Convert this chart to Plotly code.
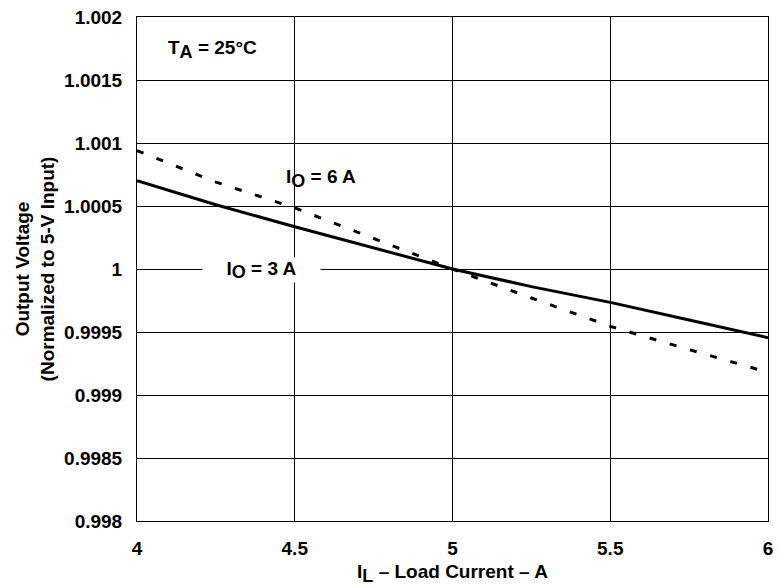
import plotly.graph_objects as go

load_current = [4.0, 4.25, 4.5, 4.75, 5.0, 5.25, 5.5, 5.75, 6.0]
vout_3a = [1.00070, 1.00051, 1.000335, 1.000165, 1.00000, 0.99986, 0.999735, 0.999595, 0.999455]
vout_6a = [1.00094, 1.00069, 1.000485, 1.00024, 1.00000, 0.99977, 0.999545, 0.99936, 0.99918]

x_ticks = [4, 4.5, 5, 5.5, 6]
x_tick_labels = ["4", "4.5", "5", "5.5", "6"]
y_ticks = [0.998, 0.9985, 0.999, 0.9995, 1.0, 1.0005, 1.001, 1.0015, 1.002]
y_tick_labels = ["0.998", "0.9985", "0.999", "0.9995", "1", "1.0005", "1.001", "1.0015", "1.002"]

FONT = "Liberation Sans, Arial, sans-serif"
FS = 19


def sub(s):
    return f"<sub><span style='font-size:18px'>{s}</span></sub>"


fig = go.Figure()
fig.add_trace(go.Scatter(x=load_current, y=vout_3a, mode="lines",
                         line=dict(color="black", width=3), showlegend=False))
fig.add_trace(go.Scatter(x=load_current, y=vout_6a, mode="lines",
                         line=dict(color="black", width=3, dash="7px,14px"), showlegend=False))

fig.add_annotation(x=4.239, y=1.00174, text=f"<b>T{sub('A')} = 25°C</b>", showarrow=False,
                   font=dict(family=FONT, size=FS, color="black"))
fig.add_annotation(x=4.582, y=1.000715, text=f"<b>I{sub('O')} = 6 A</b>", showarrow=False,
                   font=dict(family=FONT, size=FS, color="black"))
fig.add_annotation(x=4.395, y=0.99999, text=f"<b>I{sub('O')} = 3 A</b>", showarrow=False,
                   font=dict(family=FONT, size=FS, color="black"),
                   bgcolor="white", borderpad=0, width=117, height=24)

fig.update_layout(
    width=780, height=588,
    margin=dict(l=137, r=7, t=15, b=67),
    paper_bgcolor="white", plot_bgcolor="white",
    font=dict(family=FONT, size=FS, color="black"),
    xaxis=dict(range=[4, 6], tickvals=x_ticks, ticktext=[f"<b>{t}</b>" for t in x_tick_labels],
               showgrid=True, gridcolor="black", gridwidth=1,
               showline=True, linecolor="black", linewidth=1, mirror=True,
               zeroline=False, ticks="", ticklabelstandoff=10, ticklabeloverflow="allow",
               tickfont=dict(family=FONT, size=FS),
               title=dict(text=f"<b>I{sub('L')} – Load Current – A</b>", standoff=6,
                          font=dict(family=FONT, size=FS))),
    yaxis=dict(range=[0.998, 1.002], tickvals=y_ticks, ticktext=[f"<b>{t}</b>" for t in y_tick_labels],
               showgrid=True, gridcolor="black", gridwidth=1,
               showline=True, linecolor="black", linewidth=1, mirror=True,
               zeroline=False, ticks="", ticklabelstandoff=10, ticklabeloverflow="allow",
               tickfont=dict(family=FONT, size=FS),
               title=dict(text="<b>Output Voltage<br>(Normalized to 5-V Input)</b>", standoff=4,
                          font=dict(family=FONT, size=FS))),
)

fig.write_html("out.html", config={"displayModeBar": False},
               post_script="document.body.style.margin='0';document.body.style.overflow='hidden';")
